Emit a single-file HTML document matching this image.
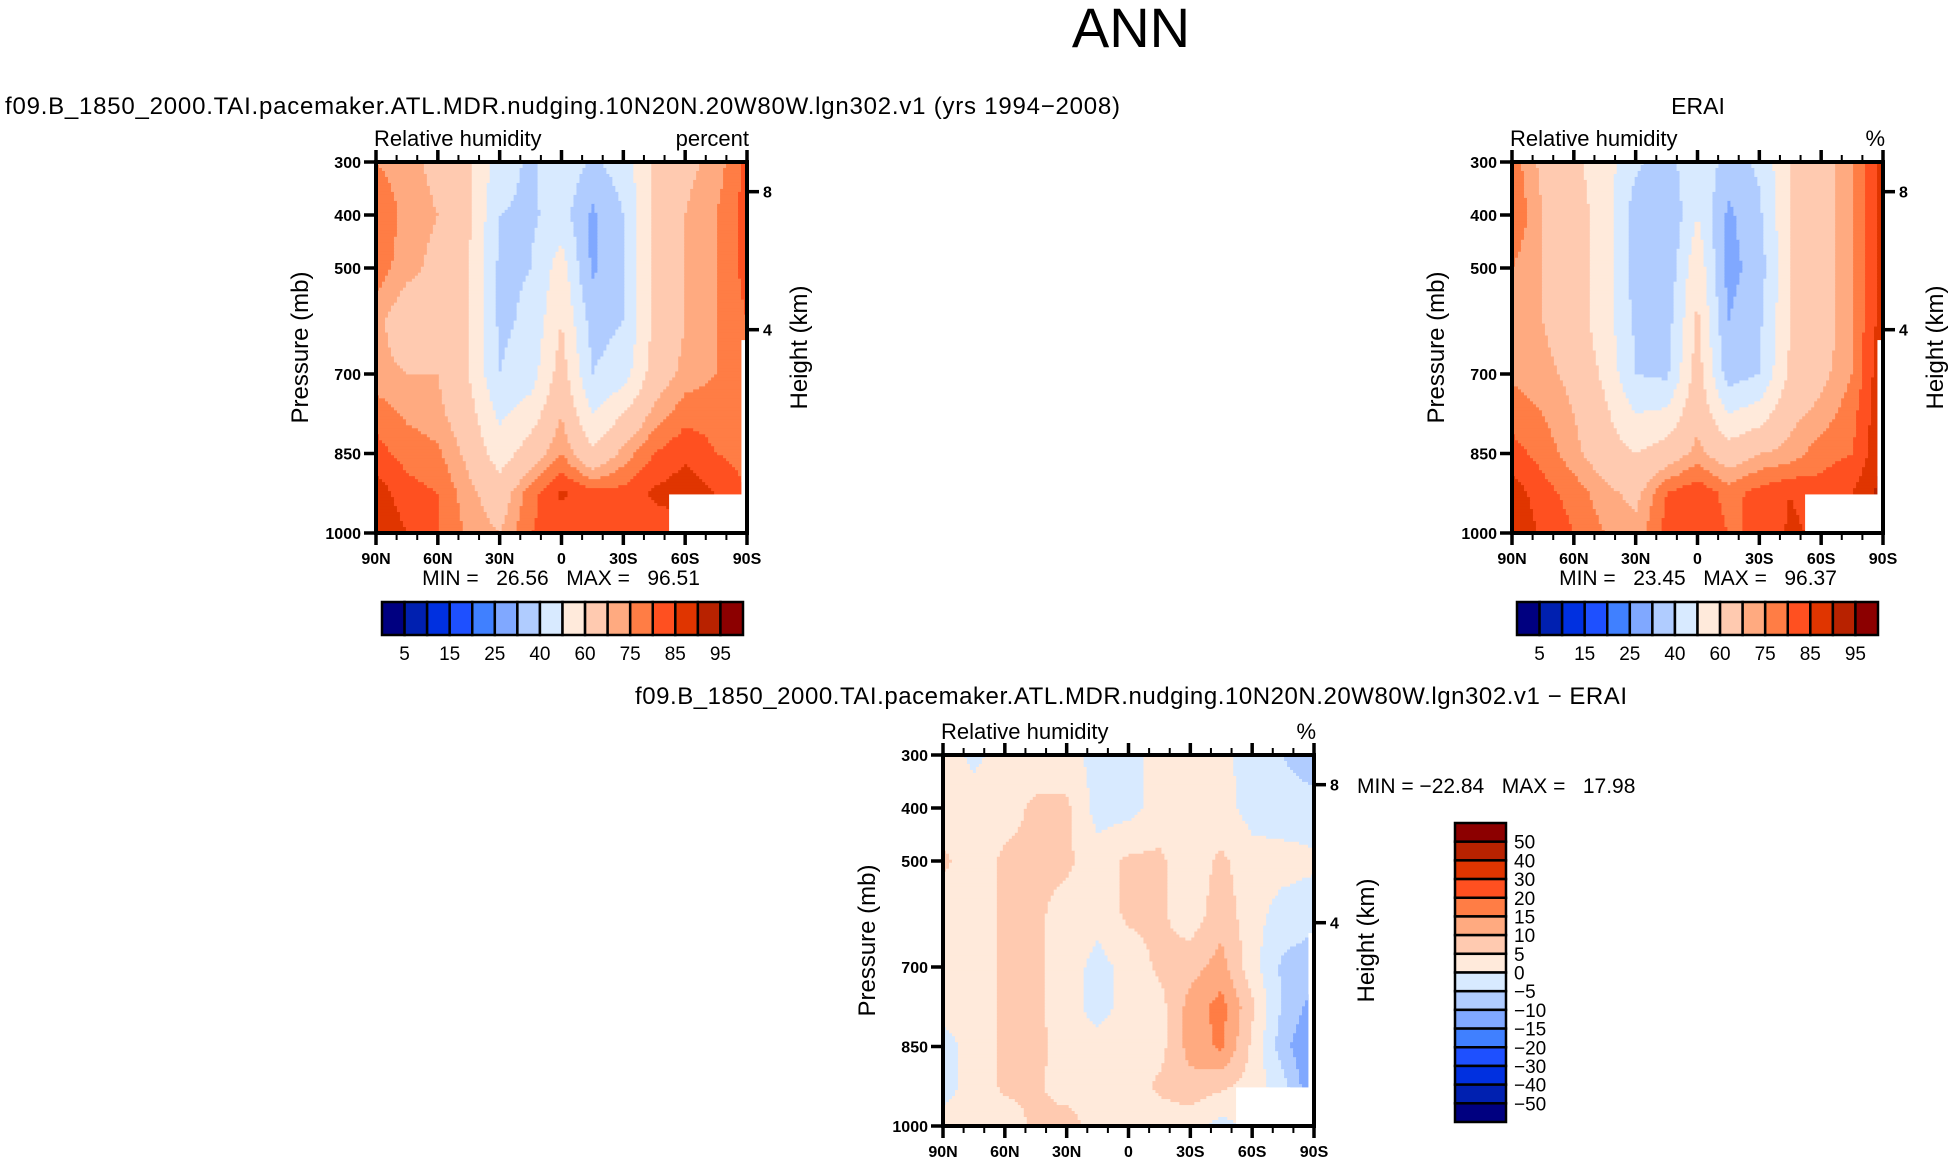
<!DOCTYPE html>
<html><head><meta charset="utf-8">
<style>
html,body{margin:0;padding:0;background:#fff;}
svg{display:block;font-family:"Liberation Sans",sans-serif;}
</style></head>
<body>
<svg id="fig" width="1953" height="1163" viewBox="0 0 1953 1163" xmlns="http://www.w3.org/2000/svg">
<rect width="1953" height="1163" fill="#fff"/>
<text x="1131" y="47" font-size="56" text-anchor="middle" fill="#000">ANN</text>
<text x="5" y="114" font-size="24" textLength="1115" fill="#000">f09.B_1850_2000.TAI.pacemaker.ATL.MDR.nudging.10N20N.20W80W.lgn302.v1 (yrs 1994−2008)</text>
<text x="1698" y="114" font-size="23" text-anchor="middle" fill="#000">ERAI</text>
<text x="635" y="704" font-size="24" textLength="992" fill="#000">f09.B_1850_2000.TAI.pacemaker.ATL.MDR.nudging.10N20N.20W80W.lgn302.v1 − ERAI</text>
<g id="plots"></g>
</svg>
<script>
// ---- data ----
const lats = [90,75,60,45,30,15,0,-15,-30,-45,-60,-75,-90];
const levels = [300,400,500,600,700,775,850,925,1000];
const modelRH = [
 [75,72,68,62,45,38,48,38,45,62,68,72,82],
 [80,73,70,62,40,38,45,28,40,62,70,75,82],
 [78,72,68,60,38,40,55,28,40,62,70,75,82],
 [72,65,68,60,38,42,60,36,40,62,70,75,80],
 [72,70,70,60,40,45,65,40,45,65,72,75,78],
 [78,74,72,64,48,55,70,50,60,72,78,78,78],
 [82,78,76,68,55,65,75,62,72,80,84,80,78],
 [88,82,80,72,65,78,86,82,82,86,88,85,80],
 [90,85,80,74,70,80,82,80,80,82,82,82,82]];
const eraRH = [
 [78,68,62,55,42,35,50,35,42,60,65,75,88],
 [80,70,65,55,35,30,50,28,38,60,65,75,88],
 [75,70,65,55,35,32,58,26,35,60,65,75,88],
 [72,70,65,55,38,35,62,30,38,60,65,75,88],
 [74,72,68,58,40,38,65,35,40,62,68,75,90],
 [78,75,70,62,50,52,68,50,55,68,72,78,90],
 [82,78,72,65,60,65,72,65,70,72,78,80,90],
 [88,82,78,72,68,80,84,78,82,85,82,85,92],
 [90,84,80,75,72,82,84,80,80,86,84,84,92]];
const diffRH = [
 [2,-1,2,2,2,-2,-2,2,2,2,-3,-5,-8],
 [2,2,3,6,6,-2,-2,2,2,2,-2,-3,-3],
 [6,2,6,6,6,2,6,6,2,6,2,2,1],
 [2,2,6,6,3,2,6,6,2,8,2,-2,-3],
 [2,2,6,6,3,-2,2,6,8,12,2,-6,-8],
 [2,2,6,6,2,-2,2,3,12,17,6,-6,-12],
 [-2,2,6,7,2,2,2,3,12,16,4,-8,-16],
 [-2,2,6,6,2,2,2,6,8,6,3,-3,-15],
 [2,2,2,6,8,2,2,2,2,-2,2,2,2]];
const rhLevels = [5,10,15,20,25,30,40,50,60,70,75,80,85,90,95];
const rhLabels = ["5","15","25","40","60","75","85","95"];
const diffLevels = [-50,-40,-30,-20,-15,-10,-5,0,5,10,15,20,30,40,50];
const diffLabels = ["50","40","30","20","15","10","5","0","−5","−10","−15","−20","−30","−40","−50"];
const colors = ["#000080","#0020b0","#0030e0","#1e50ff","#4080ff","#80a8ff","#b0ccff","#d8eaff","#ffeadb","#ffcab0","#ffaa80","#ff7d45","#ff5020","#e03500","#b82200","#8c0000"];
const pTicks = [300,400,500,700,850,1000];
const xTickLabels = ["90N","60N","30N","0","30S","60S","90S"];
const xTickVals = [90,60,30,0,-30,-60,-90];
const hTicks = [8,4];

const NS="http://www.w3.org/2000/svg";
const root=document.getElementById('plots');
function mk(tag,attrs,parent){const e=document.createElementNS(NS,tag);for(const k in attrs)e.setAttribute(k,attrs[k]);(parent||root).appendChild(e);return e;}
function colorFor(v,lv){let i=0;while(i<lv.length&&v>=lv[i])i++;return colors[i];}
function sample(grid,lat,p){
  let fi=(90-lat)/15; let i0=Math.min(Math.floor(fi),lats.length-2); let tx=fi-i0;
  let j0=0; while(j0<levels.length-2&&p>levels[j0+1])j0++;
  let ty=(p-levels[j0])/(levels[j0+1]-levels[j0]);
  const a=grid[j0][i0],b=grid[j0][i0+1],c=grid[j0+1][i0],d=grid[j0+1][i0+1];
  return (a*(1-tx)+b*tx)*(1-ty)+(c*(1-tx)+d*tx)*ty;
}
function drawPlot(ox,oy,grid,lv,name,units,minmax,mmPos){
  const W=371,H=371;
  const X=lat=>ox+(90-lat)/180*W;
  const Y=p=>oy+(p-300)/700*H;
  const g=mk('g',{});
  
  
  const nx=124,ny=124;
  for(let j=0;j<ny;j++){
    const p0=300+700*j/ny,p1=300+700*(j+1)/ny,pm=(p0+p1)/2;
    let start=0,cur=null;
    for(let i=0;i<=nx;i++){
      let c=null;
      if(i<nx){const l0=90-180*i/nx,l1=90-180*(i+1)/nx;c=colorFor(sample(grid,(l0+l1)/2,pm),lv);}
      if(c!==cur){
        if(cur!==null){
          const r=mk('rect',{x:X(90-180*start/nx).toFixed(2),y:Y(p0).toFixed(2),width:(X(90-180*i/nx)-X(90-180*start/nx)+0.6).toFixed(2),height:(Y(p1)-Y(p0)+0.6).toFixed(2),fill:cur},g);
          
          
        }
        cur=c;start=i;
      }
    }
  }
  const m1=mk('rect',{x:ox+0.79*W,y:oy+0.896*H,width:0.21*W,height:0.104*H+1,fill:"#fff"},g);
  
  
  const m2=mk('rect',{x:ox+0.985*W,y:oy+0.48*H,width:0.015*W,height:0.52*H,fill:"#fff"},g);
  
  
  const fr=mk('rect',{x:ox,y:oy,width:W,height:H,fill:"none",stroke:"#000","stroke-width":4},g);
  
  
  for(let lat=90;lat>=-90;lat-=10){
    const major=lat%30===0, L=major?12:7;
    mk('line',{x1:X(lat),x2:X(lat),y1:oy+H,y2:oy+H+L,stroke:"#000","stroke-width":major?3.5:2},g);
    mk('line',{x1:X(lat),x2:X(lat),y1:oy,y2:oy-L,stroke:"#000","stroke-width":major?3.5:2},g);
  }
  xTickVals.forEach((v,k)=>{
    const t=mk('text',{x:X(v),y:oy+H+31,"font-size":16,"font-weight":"bold","text-anchor":"middle"},g);
    t.textContent=xTickLabels[k];
    
    
  });
  pTicks.forEach(p=>{
    mk('line',{x1:ox,x2:ox-12,y1:Y(p),y2:Y(p),stroke:"#000","stroke-width":3.5},g);
    const t=mk('text',{x:ox-15,y:Y(p)+6,"font-size":16,"font-weight":"bold","text-anchor":"end"},g);
    t.textContent=p;
    
    
  });
  hTicks.forEach(h=>{
    const p=1013.25*Math.pow(1-2.25577e-5*h*1000,5.25588);
    mk('line',{x1:ox+W,x2:ox+W+12,y1:Y(p),y2:Y(p),stroke:"#000","stroke-width":3.5},g);
    const t=mk('text',{x:ox+W+16,y:Y(p)+6,"font-size":16,"font-weight":"bold"},g);
    t.textContent=h;
    
    
  });
  const t1=mk('text',{x:ox-2,y:oy-16,"font-size":22},g);t1.textContent="Relative humidity";
  
  
  const t2=mk('text',{x:ox+W+2,y:oy-16,"font-size":22,"text-anchor":"end"},g);t2.textContent=units;
  
  
  const ya=mk('text',{x:0,y:0,"font-size":24,"text-anchor":"middle",transform:`translate(${ox-68},${oy+H/2}) rotate(-90)`},g);ya.textContent="Pressure (mb)";
  
  
  const ha=mk('text',{x:0,y:0,"font-size":24,"text-anchor":"middle",transform:`translate(${ox+W+60},${oy+H/2}) rotate(-90)`},g);ha.textContent="Height (km)";
  
  
  const mm=mk('text',{x:mmPos[0],y:mmPos[1],"font-size":21,"text-anchor":mmPos[2],style:"white-space:pre"},g);mm.textContent=minmax;
  
  
}
function hBar(x,y){
  const W=361,H=33,bw=W/16;
  const g=mk('g',{});
  
  
  colors.forEach((c,i)=>{
    const r=mk('rect',{x:x+i*bw,y:y,width:bw,height:H,fill:c,stroke:"#000","stroke-width":2.5},g);
    
    
  });
  rhLabels.forEach((l,k)=>{
    const t=mk('text',{x:x+(2*k+1)*bw,y:y+H+25,"font-size":19,"text-anchor":"middle"},g);
    t.textContent=l;
    
    
  });
}
function vBar(x,y){
  const W=51,H=299,bh=H/16;
  const g=mk('g',{});
  
  
  colors.slice().reverse().forEach((c,i)=>{
    const r=mk('rect',{x:x,y:y+i*bh,width:W,height:bh,fill:c,stroke:"#000","stroke-width":2.5},g);
    
    
  });
  diffLabels.forEach((l,k)=>{
    const t=mk('text',{x:x+W+8,y:y+(k+1)*bh+7,"font-size":19},g);
    t.textContent=l;
    
    
  });
}
drawPlot(376,162,modelRH,rhLevels,'model-plot','percent',"MIN =   26.56   MAX =   96.51",[561,585,'middle']);
drawPlot(1512,162,eraRH,rhLevels,'erai-plot','%',"MIN =   23.45   MAX =   96.37",[1698,585,'middle']);
drawPlot(943,755,diffRH,diffLevels,'diff-plot','%',"MIN = −22.84   MAX =   17.98",[1357,793,'start']);
hBar(382,602);
hBar(1517,602);
vBar(1455,823);
</script>
</body></html>
